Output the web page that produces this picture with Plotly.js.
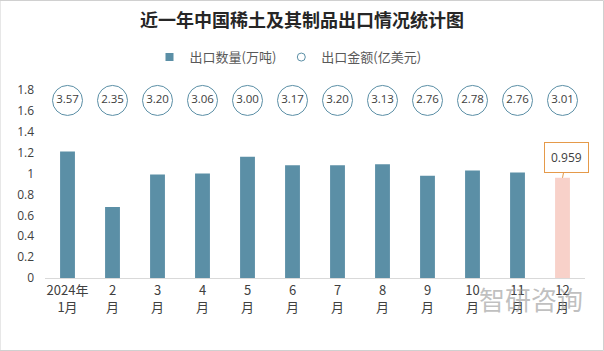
<!DOCTYPE html>
<html><head><meta charset="utf-8">
<script src="https://cdn.plot.ly/plotly-3.0.1.min.js"></script>
<style>
html,body{margin:0;padding:0;background:#fff;}
#chart{width:604px;height:351px;}
</style></head>
<body><div id="chart"></div>
<script>
const months = ["2024年<br>1月","2<br>月","3<br>月","4<br>月","5<br>月","6<br>月","7<br>月","8<br>月","9<br>月","10<br>月","11<br>月","12<br>月"];
const volume = [1.21, 0.68, 0.99, 1.00, 1.16, 1.08, 1.08, 1.09, 0.98, 1.03, 1.01, 0.959];
const amount = ["3.57","2.35","3.20","3.06","3.00","3.17","3.20","3.13","2.76","2.78","2.76","3.01"];

const cats = months.map((m,i)=>"c"+i);
const circleLevel = 1.7;
const barColors = volume.map((v,i)=> i===volume.length-1 ? "#f8d1c9" : "#5b8fa6");
const font = "Open Sans, 'Noto Sans CJK SC', sans-serif";

const data = [
  {type:"bar", name:"出口数量(万吨)", showlegend:false, x:cats, y:volume, width:0.33,
   marker:{color:barColors}, hoverinfo:"none"},
  {type:"scatter", mode:"markers+text", name:"出口金额(亿美元)", showlegend:false, x:cats,
   y:amount.map(()=>circleLevel), text:amount, textposition:"middle center",
   textfont:{size:11.5, color:"#404040", family:font},
   marker:{symbol:"circle-open", size:30, color:"#5b8fa6", line:{width:1, color:"#5b8fa6"}},
   hoverinfo:"none", cliponaxis:false},
  {type:"scatter", mode:"markers", name:"出口数量(万吨)", x:[null], y:[null],
   marker:{symbol:"square", size:8, color:"#5b8fa6"}},
  {type:"scatter", mode:"markers", name:"出口金额(亿美元)", x:[null], y:[null],
   marker:{symbol:"circle-open", size:8, color:"#5b8fa6", line:{width:1, color:"#5b8fa6"}}}
];

const last = volume.length-1;
const layout = {
  width:604, height:351,
  margin:{l:45, r:19, t:90, b:73, autoexpand:false},
  paper_bgcolor:"#fff", plot_bgcolor:"#fff",
  font:{family:font, color:"#404040"},
  title:{text:"<b>近一年中国稀土及其制品出口情况统计图</b>", x:0.5, xanchor:"center", y:0.94, yanchor:"middle",
         font:{size:18, color:"#262626", family:"'Noto Sans CJK SC', serif"}},
  showlegend:true,
  legend:{orientation:"h", x:0.45, xanchor:"center", y:1.175, yanchor:"middle",
          font:{size:13, color:"#595959", family:"'Noto Sans CJK SC', sans-serif"}, itemwidth:20, traceorder:"normal"},
  xaxis:{type:"category", tickvals:cats, ticktext:months, range:[-0.5, 11.5], showgrid:false, automargin:false,
         showline:true, linecolor:"#d9d9d9", linewidth:1, ticks:"",
         tickfont:{size:13, color:"#404040", family:"'Noto Sans CJK SC', sans-serif"}, fixedrange:true},
  yaxis:{range:[0,1.8], dtick:0.2, showgrid:false, zeroline:false, showline:false, ticks:"", automargin:false,
         tickfont:{size:12, color:"#404040"}, ticklabelstandoff:10, fixedrange:true},
  annotations:[
    {x:cats[last], y:volume[last], xref:"x", yref:"y", text:volume[last].toFixed(3),
     showarrow:true, arrowhead:0, arrowcolor:"#e59a4a", arrowwidth:1, ax:4, ay:-20,
     bordercolor:"#e59a4a", borderwidth:1, borderpad:6, bgcolor:"#fff",
     font:{size:12, color:"#404040"}},
    {x:(585-45)/540, y:(278-298)/188, xref:"paper", yref:"paper", xanchor:"right", yanchor:"middle",
     text:"智研咨询", showarrow:false, font:{size:26, color:"rgba(150,150,150,0.6)", family:"'Noto Sans CJK SC', sans-serif"}}
  ],
  shapes:[
    {type:"rect", xref:"paper", yref:"paper", x0:-45/540, x1:1+18.5/540, y0:-72.5/188, y1:1+89.5/188, line:{color:"#d0d0d0", width:1}, layer:"below"}
  ]
};
Plotly.newPlot("chart", data, layout, {staticPlot:true, displayModeBar:false});
</script></body></html>
